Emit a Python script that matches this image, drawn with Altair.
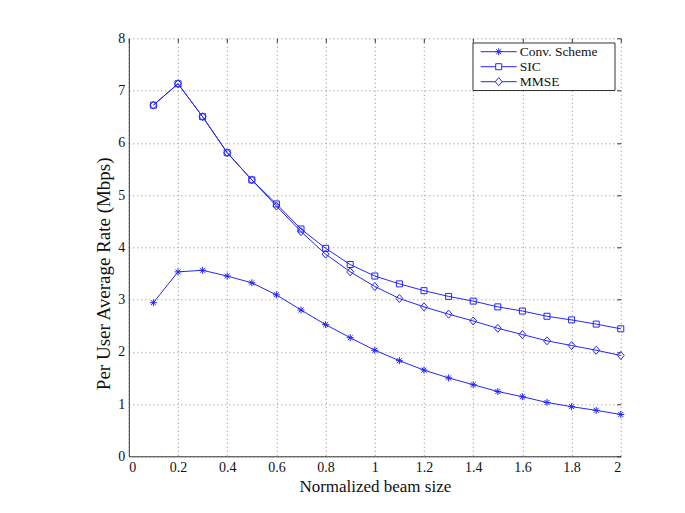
import altair as alt
import pandas as pd

# ---- data ----
beam_size = [0.1, 0.2, 0.3, 0.4, 0.5, 0.6, 0.7, 0.8, 0.9, 1.0,
             1.1, 1.2, 1.3, 1.4, 1.5, 1.6, 1.7, 1.8, 1.9, 2.0]
conv_scheme = [2.94, 3.53, 3.56, 3.45, 3.32, 3.09, 2.80, 2.52, 2.27, 2.03,
               1.83, 1.65, 1.50, 1.37, 1.24, 1.14, 1.03, 0.95, 0.88, 0.80]
sic = [6.72, 7.13, 6.50, 5.81, 5.29, 4.83, 4.35, 3.98, 3.67, 3.45,
       3.30, 3.17, 3.06, 2.97, 2.86, 2.78, 2.68, 2.61, 2.53, 2.44]
mmse = [6.72, 7.13, 6.50, 5.81, 5.29, 4.79, 4.30, 3.87, 3.53, 3.25,
        3.02, 2.86, 2.72, 2.59, 2.45, 2.33, 2.21, 2.12, 2.03, 1.93]
series_names = ["Conv. Scheme", "SIC", "MMSE"]
x_ticks = [0, 0.2, 0.4, 0.6, 0.8, 1.0, 1.2, 1.4, 1.6, 1.8, 2.0]
y_ticks = [0, 1, 2, 3, 4, 5, 6, 7, 8]

rows = []
for name, vals in zip(series_names, [conv_scheme, sic, mmse]):
    for xv, yv in zip(beam_size, vals):
        rows.append({"x": xv, "y": yv, "series": name})
df = pd.DataFrame(rows)
legend_df = pd.DataFrame({"series": series_names})
box_df = pd.DataFrame({"k": [0]})

BLUE = "#2424ff"
FONT = "Liberation Serif"

# marker paths (unit square -1..1, size 64 -> 4 px per unit)
marker_paths = [
    "M-0.875,0L0.875,0M0,-0.875L0,0.875M-0.62,-0.62L0.62,0.62M-0.62,0.62L0.62,-0.62",
    "M-0.75,-0.75L0.75,-0.75L0.75,0.75L-0.75,0.75Z",
    "M0,-1L0.875,0L0,1L-0.875,0Z",
]
shape_enc = alt.Shape("series:N", scale=alt.Scale(domain=series_names, range=marker_paths), legend=None)

xscale = alt.Scale(domain=[0, 2], nice=False, zero=False)
yscale = alt.Scale(domain=[0, 8], nice=False)

x_main = alt.X("x:Q", scale=xscale, axis=alt.Axis(
    values=x_ticks, format="~g", title="Normalized beam size",
    ticks=False, labelPadding=4, titleFontSize=17,
    titleBaseline="alphabetic", titleY=35))
y_main = alt.Y("y:Q", scale=yscale, axis=alt.Axis(
    values=y_ticks, title="Per User Average Rate (Mbps)",
    ticks=False, labelPadding=4, titleFontSize=19,
    titleX=-15, titleY=235))

lines = alt.Chart(df).mark_line(color=BLUE, strokeWidth=1).encode(
    x=x_main, y=y_main, detail="series:N", order="x:Q")

points = alt.Chart(df).mark_point(filled=False, color=BLUE, size=64, strokeWidth=1, opacity=1).encode(
    x=alt.X("x:Q", scale=xscale, axis=None),
    y=alt.Y("y:Q", scale=yscale, axis=None),
    shape=shape_enc,
)

# inward ticks: an extra axis pair shifted 4px inside, ticks pointing outward
ticks_layer = alt.Chart(df).transform_filter("false").mark_point(opacity=0).encode(
    x=alt.X("x:Q", scale=xscale, axis=alt.Axis(
        values=x_ticks, offset=-4, tickSize=4, domain=False, labels=False,
        grid=False, title=None, tickColor="#333333")),
    y=alt.Y("y:Q", scale=yscale, axis=alt.Axis(
        values=y_ticks, offset=-4, tickSize=4, domain=False, labels=False,
        grid=False, title=None, tickColor="#333333")),
)

# ---- legend (box, line samples, markers, labels) ----
leg_y = alt.Y("series:N", scale=alt.Scale(type="point", domain=series_names,
                                          range=[13.4, 43.4], padding=0), axis=None)
leg_box = alt.Chart(box_df).mark_rect(fill="white", stroke="#333333", strokeWidth=1).encode(
    x=alt.value(344.2), x2=alt.value(486.2), y=alt.value(4.7), y2=alt.value(52.2))
leg_lines = alt.Chart(legend_df).mark_rule(color=BLUE, strokeWidth=1).encode(
    x=alt.value(351.9), x2=alt.value(387.9), y=leg_y)
leg_marks = alt.Chart(legend_df).mark_point(filled=True, fill="white", stroke=BLUE,
                                            size=64, strokeWidth=1, opacity=1).encode(
    x=alt.value(369.9), y=leg_y, shape=shape_enc)
leg_text = alt.Chart(legend_df).mark_text(align="left", baseline="middle", font=FONT,
                                          fontSize=13.5, color="#111111", dy=0.5).encode(
    x=alt.value(391), y=leg_y, text="series:N")

chart = alt.layer(lines, points, ticks_layer, leg_box, leg_lines, leg_marks, leg_text).resolve_scale(
    y="independent").resolve_axis(x="independent", y="independent").properties(
    width=492, height=418,
    autosize=alt.AutoSizeParams(type="none"),
    padding={"left": 120.8, "top": 30.3, "right": 40, "bottom": 46},
    background="white",
).configure_axis(
    labelFont=FONT, titleFont=FONT, labelFontSize=14,
    labelColor="#111111", titleColor="#111111", titleFontWeight="normal",
    domainColor="#333333", domainWidth=1,
    gridColor="#8a8a8a", gridDash=[1, 3], gridWidth=1, gridOpacity=1,
).configure_view(stroke=None)

chart.save("out.html", embed_options={"renderer": "svg", "actions": False})
